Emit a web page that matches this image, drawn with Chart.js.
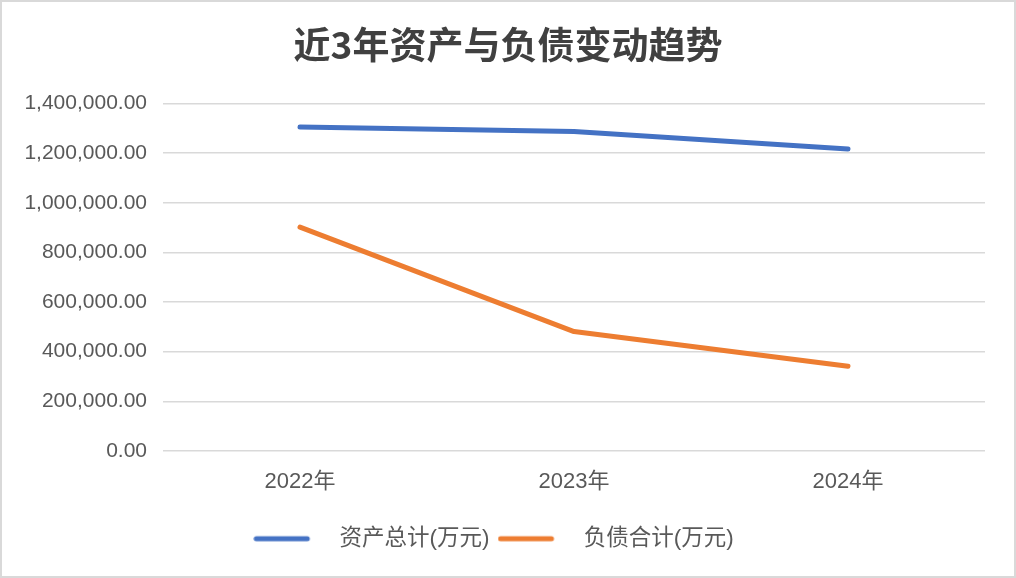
<!DOCTYPE html>
<html>
<head>
<meta charset="utf-8">
<script src="https://cdn.jsdelivr.net/npm/chart.js@4"></script>
<style>
  html, body { margin: 0; padding: 0; background: #fff; }
  #wrap { width: 1016px; height: 578px; box-sizing: border-box; border: 2px solid #d9d9d9; background: #fff; }
  #c { display: block; }
</style>
</head>
<body>
<div id="wrap"><canvas id="c" width="1012" height="574"></canvas></div>
<script>
const titleText = '近3年资产与负债变动趋势';
const categories = ['2022年', '2023年', '2024年'];
const seriesNames = ['资产总计(万元)', '负债合计(万元)'];
const totalAssets = [1304500, 1287000, 1216000];
const totalLiabilities = [902000, 481000, 341500];
const yMin = 0, yMax = 1400000, yStep = 200000;
const colors = ['#4472C4', '#ED7D31'];

function legendImage(color) {
  const c = document.createElement('canvas');
  c.width = 75; c.height = 8;
  const g = c.getContext('2d');
  g.strokeStyle = color;
  g.lineWidth = 5;
  g.lineCap = 'round';
  g.beginPath();
  g.moveTo(3, 4); g.lineTo(54, 4);
  g.stroke();
  return c;
}
const legendImgs = colors.map(legendImage);

const fontLatin = "'Liberation Sans', 'Noto Sans CJK SC', sans-serif";

// center the title over the whole canvas (not just the padded layout area)
const centerTitle = {
  id: 'centerTitle',
  afterLayout(chart) {
    if (chart.titleBlock) {
      chart.titleBlock.left = 0;
      chart.titleBlock.right = chart.width;
      chart.titleBlock.width = chart.width;
    }
  }
};

new Chart(document.getElementById('c'), {
  type: 'line',
  data: {
    labels: categories,
    datasets: [
      { label: seriesNames[0], data: totalAssets, borderColor: colors[0], backgroundColor: colors[0],
        borderWidth: 5, pointRadius: 0, pointHoverRadius: 0, tension: 0, borderCapStyle: 'round', borderJoinStyle: 'round' },
      { label: seriesNames[1], data: totalLiabilities, borderColor: colors[1], backgroundColor: colors[1],
        borderWidth: 5, pointRadius: 0, pointHoverRadius: 0, tension: 0, borderCapStyle: 'round', borderJoinStyle: 'round' }
    ]
  },
  plugins: [centerTitle],
  options: {
    responsive: false,
    animation: false,
    devicePixelRatio: 1,
    layout: { padding: { left: 0, right: 29, top: 0, bottom: 16 } },
    plugins: {
      title: {
        display: true, text: titleText, color: '#404040',
        font: { family: "'Noto Sans CJK SC', sans-serif", size: 37, weight: 'bold', lineHeight: 1.2 },
        padding: { top: 21, bottom: 36 }
      },
      legend: {
        display: true, position: 'bottom',
        labels: {
          usePointStyle: true, pointStyleWidth: 75, boxHeight: 8, padding: 8,
          color: '#595959',
          font: { family: fontLatin, size: 22.5 },
          generateLabels: (chart) => chart.data.datasets.map((ds, i) => ({
            text: ds.label, fillStyle: ds.borderColor, strokeStyle: ds.borderColor,
            lineWidth: 0, pointStyle: legendImgs[i], datasetIndex: i, hidden: false, fontColor: '#595959'
          }))
        }
      },
      tooltip: { enabled: false }
    },
    scales: {
      x: {
        offset: true,
        grid: { display: false, drawTicks: false },
        border: { display: false },
        ticks: { color: '#595959', padding: 18, font: { family: fontLatin, size: 22 } },
        afterFit: (s) => { s.height = 68.5; }
      },
      y: {
        min: yMin, max: yMax,
        grid: { color: '#d9d9d9', lineWidth: 1.5, drawTicks: false },
        border: { display: false },
        ticks: {
          stepSize: yStep, color: '#595959', padding: 16,
          font: { family: fontLatin, size: 21 },
          callback: (v) => Number(v).toLocaleString('en-US', { minimumFractionDigits: 2, maximumFractionDigits: 2 })
        },
        afterFit: (s) => { s.width = 161; }
      }
    }
  }
});
</script>
</body>
</html>
